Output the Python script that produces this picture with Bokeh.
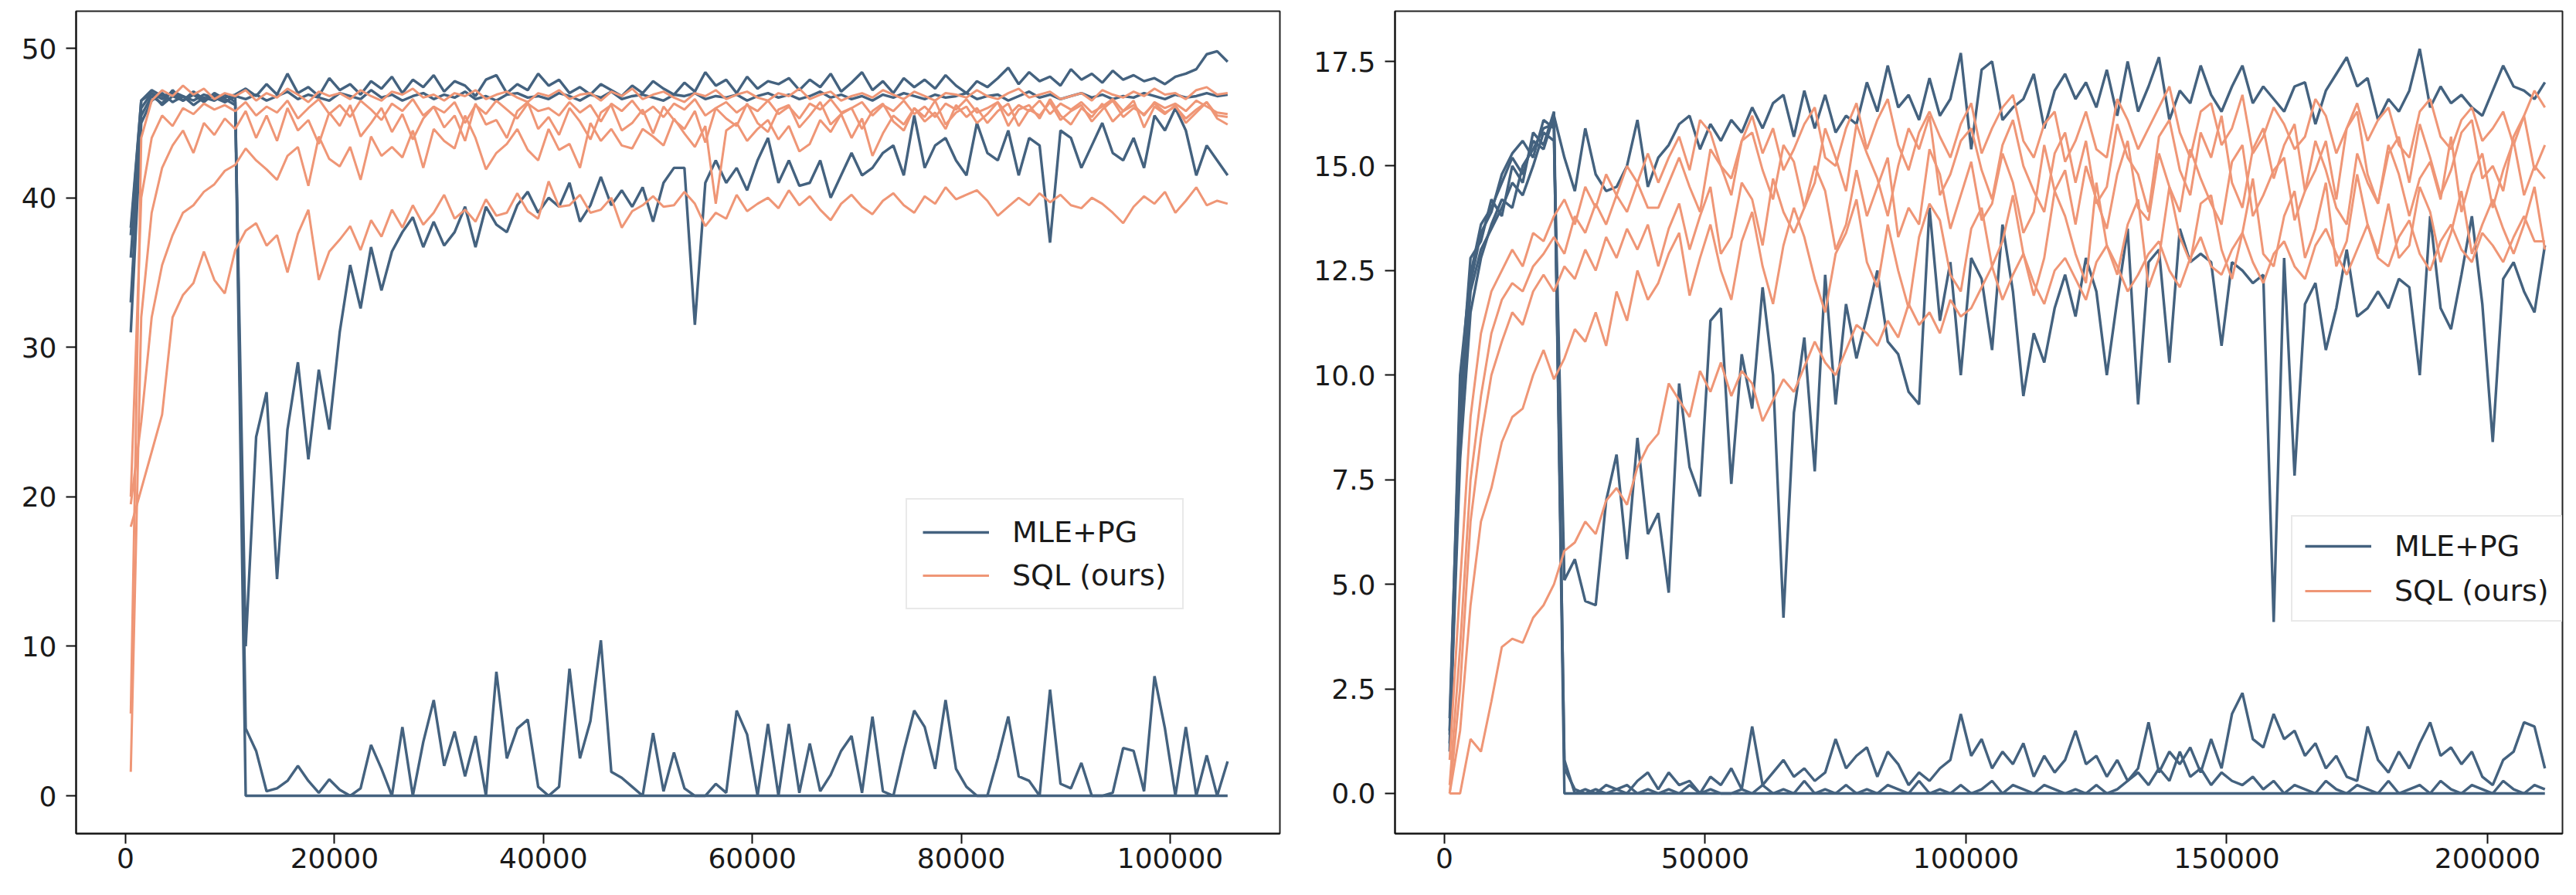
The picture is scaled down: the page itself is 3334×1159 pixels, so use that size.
from bokeh.plotting import figure
from bokeh.layouts import row
from bokeh.models import FixedTicker, NumeralTickFormatter
from bokeh.embed import file_html
from bokeh.resources import INLINE

# ---------------- data: left panel (training steps every 1000 from 500) ----------------
left_steps = list(range(500, 105501, 1000))

left_mle_pg = [
    [37.5, 46.5, 47.2, 46.8, 47.0, 46.5, 46.9, 46.6, 46.8, 46.7,
     46.9, 47.3, 46.8, 47.6, 46.9, 48.3, 47.0, 47.4, 46.8, 48.0,
     47.2, 47.6, 46.9, 47.8, 47.3, 48.1, 47.0, 47.9, 47.4, 48.2,
     47.1, 47.8, 47.5, 46.8, 47.9, 48.2, 47.0, 47.6, 47.2, 48.3,
     47.5, 47.9, 47.0, 47.4, 46.9, 47.6, 47.2, 46.8, 47.5, 47.0,
     47.8, 47.3, 46.9, 47.7, 47.1, 48.4, 47.5, 47.9, 47.0, 48.1,
     47.3, 47.8, 47.6, 48.0, 47.2, 47.9, 47.4, 48.3, 47.1, 47.7,
     48.4, 47.2, 47.8, 47.0, 48.0, 47.4, 47.9, 47.3, 48.2, 47.5,
     47.0, 47.8, 47.4, 48.0, 48.7, 47.6, 48.4, 47.8, 48.1, 47.5,
     48.6, 47.9, 48.3, 47.7, 48.5, 47.9, 48.2, 47.8, 48.0, 47.6,
     48.1, 48.3, 48.6, 49.6, 49.8, 49.1],
    [36.0, 46.0, 47.0, 46.6, 47.1, 46.8, 46.5, 46.9, 46.7, 46.4,
     46.8, 46.6, 46.9, 46.5, 46.8, 47.1, 46.6, 46.9, 46.7, 46.5,
     47.0, 46.8, 46.6, 47.2, 46.7, 46.9, 46.5, 46.8, 47.0, 46.6,
     46.9, 46.7, 47.1, 46.6, 46.8, 46.5, 46.9, 47.0, 46.7, 46.8,
     46.6, 47.0, 46.8, 46.5, 46.9, 46.7, 47.1, 46.6, 46.8, 46.9,
     46.7, 46.5, 46.9, 46.8, 47.0, 46.6, 46.8, 46.7, 46.9, 46.5,
     46.8, 47.0, 46.7, 46.9, 46.6, 46.8, 47.1, 46.7, 46.9, 46.6,
     46.8, 46.5, 46.9, 46.7, 47.0, 46.8, 46.6, 46.9, 46.7, 46.8,
     47.0, 46.6, 46.8, 46.9, 46.5, 46.8, 47.1, 46.7, 46.9, 46.6,
     46.8, 47.0, 46.7, 46.9, 46.6, 46.8, 46.7, 47.0, 46.8, 46.6,
     46.9, 46.7, 46.8, 47.0, 46.8, 46.9],
    [31.0, 45.0, 46.5, 47.0, 46.4, 46.8, 46.2, 46.7, 46.5, 46.9,
     46.4, 0.0, 0.0, 0.0, 0.0, 0.0, 0.0, 0.0, 0.0, 0.0,
     0.0, 0.0, 0.0, 0.0, 0.0, 0.0, 0.0, 0.0, 0.0, 0.0,
     0.0, 0.0, 0.0, 0.0, 0.0, 0.0, 0.0, 0.0, 0.0, 0.0,
     0.0, 0.0, 0.0, 0.0, 0.0, 0.0, 0.0, 0.0, 0.0, 0.0,
     0.0, 0.0, 0.0, 0.0, 0.0, 0.0, 0.0, 0.0, 0.0, 0.0,
     0.0, 0.0, 0.0, 0.0, 0.0, 0.0, 0.0, 0.0, 0.0, 0.0,
     0.0, 0.0, 0.0, 0.0, 0.0, 0.0, 0.0, 0.0, 0.0, 0.0,
     0.0, 0.0, 0.0, 0.0, 0.0, 0.0, 0.0, 0.0, 0.0, 0.0,
     0.0, 0.0, 0.0, 0.0, 0.0, 0.0, 0.0, 0.0, 0.0, 0.0,
     0.0, 0.0, 0.0, 0.0, 0.0, 0.0],
    [33.0, 45.5, 46.8, 46.3, 47.2, 46.5, 46.9, 46.4, 47.0, 46.6,
     46.2, 10.0, 24.0, 27.0, 14.5, 24.5, 29.0, 22.5, 28.5, 24.5,
     31.0, 35.5, 32.6, 36.7, 33.8, 36.4, 37.7, 38.7, 36.7, 38.4,
     36.8, 37.7, 39.4, 36.7, 39.4, 38.2, 37.7, 39.5, 40.4, 39.0,
     40.0, 39.4, 41.0, 38.4, 39.5, 41.4, 39.5, 40.5, 39.4, 40.7,
     38.4, 41.0, 42.0, 42.0, 31.5, 41.0, 42.5, 41.0, 42.0, 40.5,
     42.5, 44.0, 41.0, 42.5, 40.8, 41.0, 42.5, 40.0, 41.5, 43.0,
     41.5, 42.0, 43.0, 43.5, 41.5, 45.5, 42.0, 43.5, 44.0, 42.5,
     41.5, 45.0, 43.0, 42.5, 44.5, 41.5, 44.0, 43.5, 37.0, 44.5,
     44.0, 42.0, 43.5, 45.0, 43.0, 42.5, 44.0, 42.0, 45.5, 44.5,
     46.0, 44.5, 41.5, 43.5, 42.5, 41.5],
    [38.0, 46.5, 47.0, 46.2, 46.8, 46.5, 47.1, 46.6, 46.9, 46.4,
     46.8, 4.5, 3.0, 0.3, 0.5, 1.0, 2.0, 1.0, 0.2, 1.1,
     0.4, 0.0, 0.5, 3.4, 1.8, 0.0, 4.6, 0.0, 3.6, 6.4,
     2.0, 4.3, 1.3, 4.0, 0.0, 8.3, 2.5, 4.5, 5.1, 0.6,
     0.0, 0.6, 8.5, 2.5, 5.0, 10.4, 1.6, 1.2, 0.6, 0.0,
     4.2, 0.3, 2.9, 0.5, 0.0, 0.0, 0.8, 0.2, 5.7, 4.1,
     0.0, 4.8, 0.0, 4.8, 0.2, 3.5, 0.3, 1.4, 3.0, 4.0,
     0.2, 5.3, 0.3, 0.0, 3.0, 5.7, 4.6, 1.8, 6.4, 1.8,
     0.6, 0.0, 0.0, 2.5, 5.3, 1.3, 1.0, 0.0, 7.1, 0.8,
     0.5, 2.2, 0.0, 0.0, 0.2, 3.2, 3.0, 0.3, 8.0, 4.5,
     0.0, 4.6, 0.0, 2.7, 0.0, 2.3],
]

left_sql = [
    [5.5, 44.0, 46.5, 47.2, 46.8, 47.5, 46.9, 47.3, 46.6, 47.0,
     46.8, 47.2, 46.5, 47.0, 46.7, 47.3, 46.9, 46.4, 47.1, 46.8,
     47.0, 46.6, 47.2, 46.8, 46.5, 47.1, 46.9, 47.3, 46.7, 46.9,
     46.5, 47.0, 46.8, 47.2, 46.6, 46.9, 47.1, 46.7, 46.4, 47.0,
     46.8, 47.2, 46.6, 46.9, 47.0, 46.5, 47.1, 46.8, 47.3, 46.6,
     46.9, 47.1, 46.7, 46.4, 47.0, 46.8, 47.2, 46.6, 46.9, 47.1,
     46.7, 46.5, 47.0, 46.8, 47.3, 46.6, 46.9, 47.1, 46.5, 46.8,
     47.0, 46.7, 47.2, 46.9, 46.6, 47.1, 46.8, 46.5, 47.0, 46.9,
     46.7, 47.2, 46.8, 46.6, 47.0, 47.3, 46.7, 46.9, 47.1, 46.6,
     46.8, 47.0, 46.5, 47.2, 46.9, 46.7, 47.1, 46.8, 47.3, 46.9,
     47.0, 46.6, 47.2, 47.4, 46.9, 47.0],
    [20.0, 40.0, 44.0, 45.5, 44.8, 46.0, 45.6, 46.3, 45.9, 46.2,
     45.8, 46.4, 45.5, 46.1, 45.7, 46.5, 45.3, 46.0, 46.6, 45.6,
     46.2, 45.4, 46.5, 45.9, 45.2, 46.3, 45.8, 46.6, 45.5, 46.1,
     45.7, 46.4, 45.0, 46.2, 45.6, 46.5, 45.9, 45.3, 46.3, 45.8,
     46.0, 45.5, 46.4, 45.7, 46.2, 45.1, 46.3, 45.8, 46.5, 45.6,
     46.1, 45.4, 46.3, 45.9, 46.6, 45.5, 46.0, 46.4, 45.7, 46.2,
     45.8, 46.5, 45.6, 46.1, 45.3, 46.3, 45.9, 46.6, 45.7, 46.0,
     46.4, 45.5, 46.2, 45.8, 46.5, 45.6, 46.1, 45.4, 46.3, 45.9,
     46.6, 45.7, 46.0, 46.4, 45.5, 46.2, 45.8, 46.5, 45.6, 46.3,
     45.9, 46.4, 45.7, 46.1, 46.6, 45.8, 46.2, 45.5, 46.4, 46.0,
     46.3, 45.8, 46.5, 46.1, 45.7, 45.6],
    [1.6, 32.0, 39.0, 42.0, 43.5, 44.5, 43.0, 45.0, 44.2, 45.3,
     44.6, 45.8, 44.0, 45.5, 43.8, 46.0, 44.5, 45.2, 43.6, 45.7,
     44.8, 46.2, 44.1, 45.0, 46.0, 44.4, 45.6, 43.9, 45.3, 46.1,
     44.7, 45.5, 43.8, 46.3, 44.9, 45.2, 44.0, 45.8, 46.4, 44.6,
     45.4, 44.2, 46.0, 45.1, 43.9, 45.7, 46.2, 44.5, 45.0, 45.9,
     44.3, 46.1, 45.2, 44.6, 45.8, 43.7, 46.0, 45.3, 44.8, 46.3,
     45.0, 44.4, 45.9, 46.2, 44.7, 45.5, 46.4, 44.9, 45.6, 46.0,
     44.6, 45.8, 46.3, 45.1, 44.5, 46.0, 45.4, 46.5, 44.9, 45.7,
     46.1, 45.0, 45.6, 46.4, 44.8, 45.9, 46.2, 45.3, 46.6, 45.5,
     44.9, 46.0, 45.4, 46.3, 45.1, 45.8, 46.5, 44.7, 46.1, 45.6,
     46.2, 45.0, 45.7, 46.4, 45.3, 44.9],
    [19.5, 25.0, 32.0, 35.5, 37.5, 39.0, 39.5, 40.4, 40.9, 41.8,
     42.2, 43.3, 42.5, 41.9, 41.2, 42.8, 43.4, 40.8, 44.1, 42.6,
     42.1, 43.4, 41.2, 44.1, 42.8, 43.4, 42.7, 44.5, 42.0, 44.6,
     43.8, 43.3, 45.5, 44.0, 41.9, 43.0, 43.6, 44.6, 43.2, 42.5,
     44.6, 43.2, 43.6, 42.0, 45.0, 43.8, 44.6, 43.5, 43.3, 44.6,
     44.1, 43.5, 45.3, 44.3, 43.4, 44.8, 39.6, 44.5, 45.0, 43.8,
     44.6, 45.2, 43.9, 44.8, 43.1, 43.6, 45.2, 44.4, 45.6, 44.0,
     45.3, 42.8, 44.3, 45.5, 44.9, 46.0, 45.1, 45.7, 44.6, 46.2,
     45.4, 46.0, 45.0, 45.8, 46.3, 44.8, 45.9, 45.5, 46.4, 45.2,
     45.8, 46.2, 45.1, 45.9, 46.5, 45.4, 46.0, 45.6, 46.3, 45.7,
     46.1, 45.3, 45.9, 46.4, 45.5, 45.4],
    [18.0, 20.5, 23.0, 25.5, 32.0, 33.5, 34.3, 36.4, 34.5, 33.6,
     36.5, 37.8, 38.3, 36.8, 37.5, 35.0, 37.6, 39.2, 34.5, 36.4,
     37.2, 38.1, 36.5, 38.5, 37.4, 39.2, 38.0, 39.5, 38.2, 39.0,
     40.2, 38.6, 39.2, 38.4, 39.9, 38.8, 39.0, 40.3, 39.1, 38.6,
     41.1, 39.4, 39.5, 40.2, 39.0, 39.2, 40.0, 38.0, 39.1, 39.5,
     40.1, 39.4, 39.5, 40.4, 39.6, 38.1, 39.0, 38.6, 40.2, 39.1,
     39.6, 40.0, 39.3, 40.5, 39.5, 40.1, 39.2, 38.5, 39.6, 40.2,
     39.4, 38.9, 39.8, 40.3, 39.5, 39.0, 40.1, 39.6, 40.7, 39.9,
     40.2, 40.5, 39.8, 38.8, 39.4, 40.0, 39.5, 40.3, 39.7, 40.2,
     39.5, 39.3, 40.0, 39.6, 39.0, 38.3, 39.4, 40.1, 39.6, 40.4,
     39.0, 39.8, 40.7, 39.5, 39.8, 39.6],
]

# ---------------- data: right panel (training steps every 2000 from 1000) ----------------
right_steps = list(range(1000, 211001, 2000))

right_mle_pg = [
    [1.5, 10.0, 12.4, 13.6, 14.0, 14.6, 15.2, 14.8, 15.6, 15.4,
     16.2, 15.2, 14.4, 15.9, 14.8, 14.4, 14.5, 15.0, 16.1, 14.5,
     15.2, 15.5, 16.0, 16.2, 15.4, 16.0, 15.6, 16.1, 15.8, 16.4,
     15.9, 16.5, 16.7, 15.7, 16.8, 15.9, 16.7, 15.8, 16.2, 16.0,
     17.0, 16.3, 17.4, 16.4, 16.7, 16.1, 17.1, 16.2, 16.6, 17.7,
     15.4, 17.3, 17.5, 16.1, 16.4, 16.6, 17.2, 15.9, 16.8, 17.2,
     16.6, 17.0, 16.4, 17.3, 16.2, 17.5, 16.3, 16.9, 17.6, 16.1,
     16.8, 16.5, 17.4, 16.7, 16.3, 16.9, 17.4, 16.5, 16.9, 16.6,
     16.3, 16.9, 17.0, 16.0, 16.8, 17.2, 17.6, 16.9, 17.1, 16.1,
     16.6, 16.3, 16.8, 17.8, 16.4, 16.9, 16.5, 16.7, 16.4, 16.2,
     16.8, 17.4, 16.9, 16.8, 16.6, 17.0],
    [1.0, 9.0, 12.0, 13.0, 13.5, 14.0, 14.6, 14.3, 15.0, 15.8,
     15.6, 5.1, 5.6, 4.6, 4.5, 7.0, 8.1, 5.6, 8.5, 6.2,
     6.7, 4.8, 9.8, 7.8, 7.1, 11.3, 11.6, 7.4, 10.5, 9.2,
     12.1, 10.0, 4.2, 9.1, 10.9, 7.7, 12.4, 9.3, 11.7, 10.4,
     11.4, 12.5, 10.8, 10.5, 9.6, 9.3, 14.0, 11.3, 12.7, 10.0,
     12.8, 12.3, 10.6, 13.6, 12.0, 9.5, 11.0, 10.3, 11.6, 12.4,
     11.4, 12.8, 12.0, 10.0, 11.8, 13.5, 9.3, 12.7, 13.0, 10.3,
     13.5, 12.7, 12.9, 12.7, 10.7, 12.7, 12.5, 12.2, 12.4, 4.1,
     12.8, 7.6, 11.7, 12.2, 10.6, 11.6, 13.0, 11.4, 11.6, 12.0,
     11.6, 12.3, 12.1, 10.0, 13.8, 11.6, 11.1, 12.4, 13.8, 11.7,
     8.4, 12.3, 12.7, 12.0, 11.5, 13.1],
    [1.2, 8.0, 11.5, 12.8, 13.6, 14.2, 14.0, 15.0, 15.4, 15.9,
     16.0, 0.0, 0.0, 0.0, 0.0, 0.0, 0.0, 0.0, 0.0, 0.0,
     0.0, 0.0, 0.0, 0.0, 0.0, 0.0, 0.0, 0.0, 0.0, 0.0,
     0.0, 0.0, 0.0, 0.0, 0.0, 0.0, 0.0, 0.0, 0.0, 0.0,
     0.0, 0.0, 0.0, 0.0, 0.0, 0.0, 0.0, 0.0, 0.0, 0.0,
     0.0, 0.0, 0.0, 0.0, 0.0, 0.0, 0.0, 0.0, 0.0, 0.0,
     0.0, 0.0, 0.0, 0.0, 0.0, 0.0, 0.0, 0.0, 0.0, 0.0,
     0.0, 0.0, 0.0, 0.0, 0.0, 0.0, 0.0, 0.0, 0.0, 0.0,
     0.0, 0.0, 0.0, 0.0, 0.0, 0.0, 0.0, 0.0, 0.0, 0.0,
     0.0, 0.0, 0.0, 0.0, 0.0, 0.0, 0.0, 0.0, 0.0, 0.0,
     0.0, 0.0, 0.0, 0.0, 0.0, 0.0],
    [1.8, 9.5, 12.8, 13.2, 14.2, 13.8, 15.0, 14.6, 15.8, 15.5,
     16.3, 0.6, 0.1, 0.0, 0.1, 0.0, 0.1, 0.2, 0.0, 0.1,
     0.0, 0.1, 0.0, 0.2, 0.0, 0.1, 0.0, 0.0, 0.1, 0.0,
     0.2, 0.0, 0.1, 0.0, 0.3, 0.0, 0.1, 0.0, 0.2, 0.0,
     0.1, 0.0, 0.2, 0.1, 0.0, 0.3, 0.0, 0.1, 0.0, 0.2,
     0.0, 0.1, 0.3, 0.0, 0.2, 0.1, 0.0, 0.2, 0.1, 0.0,
     0.1, 0.0, 0.2, 0.0, 0.1, 0.3, 0.5, 0.2, 0.6, 0.3,
     1.0, 0.4, 0.6, 0.2, 0.5, 0.3, 0.2, 0.4, 0.1, 0.3,
     0.0, 0.2, 0.1, 0.0, 0.3, 0.1, 0.0, 0.2, 0.1, 0.0,
     0.3, 0.0, 0.1, 0.2, 0.0, 0.3, 0.1, 0.0, 0.2, 0.1,
     0.0, 0.3, 0.1, 0.0, 0.2, 0.1],
    [1.4, 8.5, 12.2, 13.4, 13.9, 14.8, 15.3, 15.6, 15.2, 16.1,
     15.9, 0.8, 0.0, 0.1, 0.0, 0.2, 0.1, 0.0, 0.3, 0.5,
     0.1, 0.5, 0.2, 0.3, 0.0, 0.4, 0.2, 0.6, 0.1, 1.6,
     0.2, 0.5, 0.8, 0.4, 0.6, 0.3, 0.5, 1.3, 0.6, 0.9,
     1.1, 0.4, 1.0, 0.7, 0.2, 0.5, 0.3, 0.6, 0.8, 1.9,
     0.9, 1.3, 0.6, 1.0, 0.7, 1.2, 0.4, 0.9, 0.5, 0.8,
     1.5, 0.7, 0.9, 0.4, 0.8, 0.3, 0.6, 1.7, 0.5, 1.0,
     0.7, 1.1, 0.5, 1.3, 0.6, 1.9, 2.4, 1.3, 1.1, 1.9,
     1.3, 1.5, 0.9, 1.2, 0.6, 0.9, 0.4, 0.3, 1.6, 0.8,
     0.5, 1.0, 0.6, 1.2, 1.7, 0.9, 1.1, 0.7, 1.0, 0.4,
     0.2, 0.8, 1.0, 1.7, 1.6, 0.6],
]

right_sql = [
    [0.8, 5.0, 9.0, 11.0, 12.0, 12.5, 13.0, 12.6, 13.4, 13.2,
     13.8, 14.2, 13.6, 14.5, 14.0, 14.8, 14.3, 15.0, 14.6, 15.3,
     14.6, 15.2, 15.7, 14.9, 16.1, 15.8, 15.0, 14.7, 15.6, 16.2,
     15.3, 15.9, 14.9, 15.4, 16.0, 16.4, 15.2, 15.0, 15.9, 16.5,
     15.4, 16.1, 16.6, 15.5, 14.9, 15.8, 16.3, 15.7, 15.2, 16.0,
     16.5, 15.3, 15.9, 16.4, 16.7, 15.6, 15.2, 16.0, 16.3, 15.1,
     15.6, 16.3, 15.4, 15.2, 16.6, 16.1, 15.4, 15.9, 16.4, 16.9,
     15.8, 15.2, 16.3, 16.5, 15.5, 15.9, 16.7, 15.3, 15.7, 16.4,
     16.0, 15.4, 15.7, 16.6, 16.2, 15.3, 15.9, 16.5, 15.6, 16.1,
     16.4, 15.5, 15.2, 16.3, 16.6, 15.7, 15.4, 16.1, 16.4, 15.6,
     15.9, 16.3, 15.5, 16.2, 16.8, 16.4],
    [0.2, 3.5, 7.5, 9.5, 11.0, 11.8, 12.2, 12.0, 12.6, 12.9,
     13.3, 12.9, 13.8, 13.4, 14.1, 13.6, 14.3, 13.9, 14.6, 14.0,
     14.0, 14.6, 15.2, 14.5, 13.9, 15.4, 15.0, 14.3, 15.6, 15.8,
     14.9, 14.2, 15.5, 15.1, 14.0, 14.6, 15.9, 15.2, 14.4, 16.0,
     15.3, 14.7, 13.8, 15.0, 15.9, 15.4, 16.2, 14.3, 14.8, 15.6,
     15.9, 14.9, 14.2, 15.5, 16.1, 15.0, 14.4, 13.9, 15.3, 15.8,
     14.6, 15.6, 14.1, 14.5, 16.0, 15.2, 14.8, 13.9, 15.7, 16.1,
     14.9, 14.3, 15.8, 15.2, 16.2, 14.6, 14.0, 15.4, 15.9, 14.7,
     15.5, 16.0, 14.4, 14.9, 15.6, 14.2, 15.9, 16.3, 14.8, 14.1,
     15.3, 15.7, 14.6, 16.0, 15.2, 14.3, 14.9, 15.8, 16.1, 14.7,
     15.0, 14.4, 15.7, 16.2, 14.9, 15.5],
    [0.0, 2.5, 6.5, 8.5, 10.0, 10.8, 11.5, 11.2, 12.0, 12.4,
     12.0, 12.6, 12.3, 13.0, 12.5, 13.3, 12.8, 13.5, 13.0, 13.6,
     12.6, 13.5, 14.1, 13.0, 13.8, 14.5, 12.9, 13.3, 14.6, 14.2,
     13.1, 14.7, 13.9, 13.4, 14.0, 15.0, 14.4, 13.0, 13.6, 14.9,
     13.8, 14.5, 15.2, 13.3, 14.0, 13.6, 15.4, 14.8, 13.5, 14.3,
     15.1, 13.7, 14.1, 15.3, 14.6, 13.4, 13.9, 15.5, 14.4, 14.9,
     13.6, 15.0, 14.2, 13.5, 14.8, 15.6, 14.0, 13.7, 15.3, 14.5,
     13.9, 15.4, 14.7, 14.1, 13.6, 15.1, 15.5, 13.8, 14.3, 14.9,
     15.2, 13.7, 14.4, 15.6, 14.9, 14.0, 13.6, 15.3, 14.6, 14.1,
     15.5, 14.8, 13.8, 14.7, 15.1, 14.2, 15.7, 13.9, 14.8, 15.3,
     14.0, 14.9, 15.6, 14.3, 15.0, 14.7],
    [0.0, 1.5, 4.5, 6.5, 7.3, 8.4, 9.0, 9.2, 10.0, 10.6,
     9.9, 10.4, 11.1, 10.8, 11.5, 10.7, 12.0, 11.3, 12.5, 11.8,
     12.2, 12.9, 13.4, 11.9, 12.8, 13.6, 12.5, 11.8, 13.2, 13.9,
     12.6, 11.7, 13.1, 14.0, 13.3, 12.3, 11.5, 12.9, 13.4, 14.2,
     12.7, 12.1, 13.6, 12.5, 11.6, 13.3, 14.1, 13.7, 12.4, 12.0,
     13.5, 14.0, 12.6, 13.2, 14.3, 12.9, 11.9, 12.8, 14.4, 13.8,
     12.9, 12.2, 14.6, 13.1, 12.4, 13.6, 14.2, 12.1, 12.8, 14.5,
     13.3, 12.7, 14.1, 14.3, 13.0, 12.3, 13.4, 14.7, 12.9, 12.6,
     13.8, 14.4, 12.8, 13.5, 14.6, 12.6, 13.2, 14.8, 13.6, 12.9,
     14.1, 12.8, 13.1, 14.5, 13.9, 12.7, 13.4, 14.4, 12.9, 13.6,
     14.2, 13.5, 12.9, 13.6, 14.5, 13.0],
    [0.0, 0.0, 1.3, 1.0, 2.2, 3.5, 3.7, 3.6, 4.2, 4.5,
     5.0, 5.8, 6.0, 6.5, 6.2, 7.0, 7.3, 6.9, 7.8, 8.3,
     8.6, 9.8, 9.4, 9.0, 10.1, 9.6, 10.3, 9.5, 10.1, 9.8,
     8.9, 9.4, 9.9, 9.6, 10.2, 10.8, 10.3, 10.0, 10.6, 11.2,
     11.0, 10.7, 11.3, 10.9, 11.7, 11.2, 11.5, 11.0, 11.8, 11.4,
     11.6, 12.1, 12.6, 11.8, 12.4, 12.9, 12.2, 11.7, 12.5, 12.8,
     12.3, 11.8, 12.7, 13.1, 12.6, 12.0, 12.4, 12.9, 13.2, 12.5,
     12.1, 12.8, 13.3, 12.6, 12.4, 13.0, 13.4, 12.7, 12.2, 12.9,
     13.2, 12.6, 12.3, 13.1, 13.5, 12.9, 12.4, 13.0, 13.6, 12.8,
     12.6, 13.3, 13.7, 12.9, 12.5, 13.2, 13.6, 13.0, 12.7, 13.4,
     13.1, 12.7, 13.3, 13.8, 13.2, 13.2],
]

left_xticks = [0, 20000, 40000, 60000, 80000, 100000]
left_yticks = [0, 10, 20, 30, 40, 50]
right_xticks = [0, 50000, 100000, 150000, 200000]
right_yticks = [0.0, 2.5, 5.0, 7.5, 10.0, 12.5, 15.0, 17.5]
series_labels = ["MLE+PG", "SQL (ours)"]

# ---------------- styling ----------------
BLUE = "#44627f"
ORANGE = "#ef9676"
FONT = "DejaVu Sans"


def make_panel(steps, mle, sql, xr, yr, xticks, yticks, yfmt, width, mbl, mbr,
               legend_loc, legend_pad, legend_spacing):
    p = figure(width=width, height=1143, x_range=xr, y_range=yr,
               output_backend="svg", toolbar_location=None,
               min_border_left=mbl, min_border_right=mbr,
               min_border_top=14, min_border_bottom=64)
    p.background_fill_color = "white"
    p.border_fill_color = "white"
    p.outline_line_color = "#222222"
    p.outline_line_width = 2
    p.xgrid.visible = False
    p.ygrid.visible = False
    for ax in (p.xaxis[0], p.yaxis[0]):
        ax.axis_line_color = "#111111"
        ax.axis_line_width = 2
        ax.major_tick_line_color = "#111111"
        ax.major_tick_line_width = 2
        ax.major_tick_out = 13
        ax.major_tick_in = 0
        ax.minor_tick_line_color = None
        ax.major_label_text_font = FONT
        ax.major_label_text_font_size = "36px"
        ax.major_label_text_color = "#1a1a1a"
    p.xaxis.ticker = FixedTicker(ticks=xticks)
    p.yaxis.ticker = FixedTicker(ticks=yticks)
    p.xaxis.formatter = NumeralTickFormatter(format="0")
    p.yaxis.formatter = NumeralTickFormatter(format=yfmt)
    p.xaxis.major_label_standoff = 5
    p.yaxis.major_label_standoff = 12

    for i, ys in enumerate(mle):
        assert len(ys) == len(steps), (i, len(ys))
        kw = {"legend_label": series_labels[0]} if i == 0 else {}
        p.line(steps, ys, line_color=BLUE, line_width=3.4, **kw)
    for i, ys in enumerate(sql):
        assert len(ys) == len(steps), (i, len(ys))
        kw = {"legend_label": series_labels[1]} if i == 0 else {}
        p.line(steps, ys, line_color=ORANGE, line_width=3.0, **kw)

    lg = p.legend[0]
    lg.location = legend_loc
    lg.label_text_font = FONT
    lg.label_text_font_size = "38px"
    lg.label_text_color = "#1a1a1a"
    lg.glyph_width = 86
    lg.glyph_height = 40
    lg.label_height = 40
    lg.label_standoff = 30
    lg.padding = legend_pad
    lg.spacing = legend_spacing
    lg.margin = 0
    lg.border_line_color = "#d4d4d4"
    lg.border_line_width = 2
    lg.background_fill_alpha = 0.85
    return p


p1 = make_panel(left_steps, left_mle_pg, left_sql,
                (-4734, 110503), (-2.53, 52.48),
                left_xticks, left_yticks, "0", 1672, 98, 16,
                (1074, 290), 20, 12)
p2 = make_panel(right_steps, right_mle_pg, right_sql,
                (-9480, 214370), (-0.96, 18.70),
                right_xticks, right_yticks, "0.0", 1646, 133, 2,
                (1160, 274), 16, 14)

layout = row(p1, p2)
open("out.html", "w").write(file_html(layout, INLINE))
